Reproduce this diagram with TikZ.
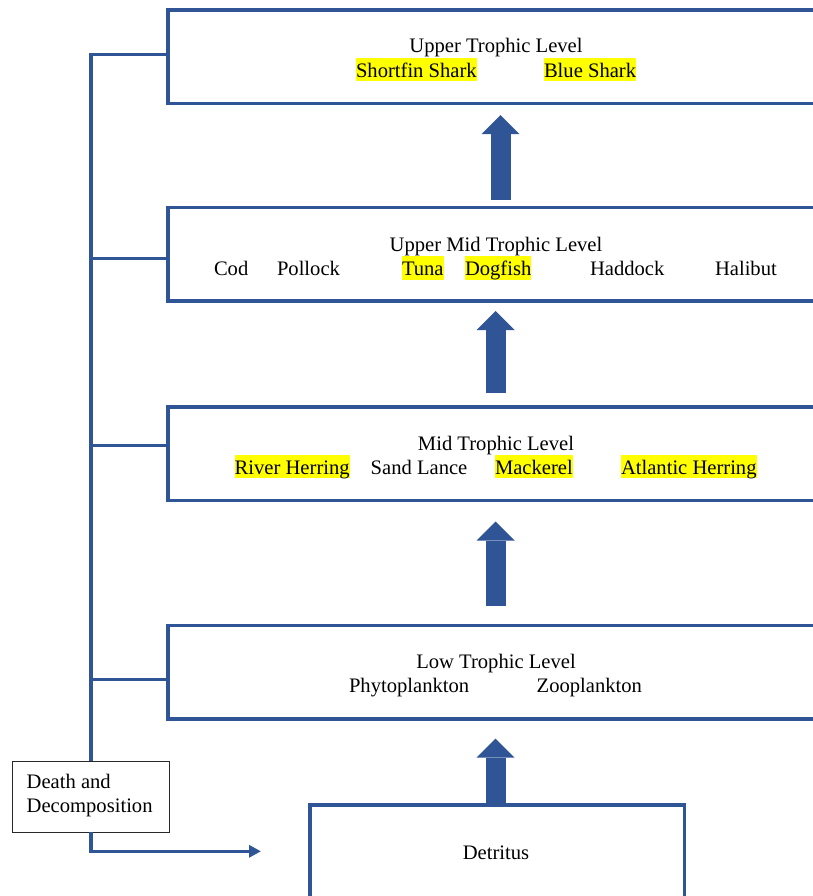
\documentclass[tikz,border=0pt]{standalone}
\usepackage{fontspec}
\setmainfont{Liberation Serif}
\usetikzlibrary{arrows.meta}
\definecolor{levelblue}{RGB}{47,85,151}
\definecolor{marker}{RGB}{255,255,0}
\definecolor{boxgray}{RGB}{40,40,40}

\begin{document}
\begin{tikzpicture}[x=1pt,y=-1pt,
  every node/.style={font=\fontsize{20.6}{24}\selectfont, inner sep=0pt, outer sep=0pt},
  level/.style={rectangle, draw=levelblue, line width=3.5pt, fill=white,
    anchor=north west, minimum width=700pt, minimum height=93.5pt},
  word/.style={anchor=base west},
  title/.style={anchor=base},
  hl/.style={anchor=base west, fill=marker, text height=19.5pt, text depth=4pt},
  link/.style={draw=levelblue, line width=3.3pt},
  uparrow/.style={draw=levelblue, line width=20pt,
    -{Triangle[length=19pt,width=38pt,line width=0pt]}},
]
\clip (0,0) rectangle (813,896);
\fill[white] (0,0) rectangle (813,896);

% trophic level boxes (they run past the right edge)
\node[level] (top1) at (168,10) {};
\node[level] (mid2) at (168,207.5) {};
\node[level] (mid3) at (168,407) {};
\node[level] (low4) at (168,625.5) {};
\node[level, minimum width=374.3pt, minimum height=150pt] (detr) at (310,805) {};

% box contents
\node[title] (t1) at (496,52.7) {Upper Trophic Level};
\node[hl] (shortfin) at (356,77.3) {Shortfin Shark};
\node[hl] (blue) at (544,77.3) {Blue Shark};

\node[title] (t2) at (496,251.7) {Upper Mid Trophic Level};
\node[word] (cod) at (214,275.7) {Cod};
\node[word] (pollock) at (277,275.7) {Pollock};
\node[hl] (tuna) at (402,275.7) {Tuna};
\node[hl] (dogfish) at (465,275.7) {Dogfish};
\node[word] (haddock) at (590,275.7) {Haddock};
\node[word] (halibut) at (715,275.7) {Halibut};

\node[title] (t3) at (496,450) {Mid Trophic Level};
\node[hl] (river) at (234.7,474.3) {River Herring};
\node[word] (sand) at (370.7,474.3) {Sand Lance};
\node[hl] (mackerel) at (495,474.3) {Mackerel};
\node[hl] (atlantic) at (621,474.3) {Atlantic Herring};

\node[title] (t4) at (496,668.3) {Low Trophic Level};
\node[word] (phyto) at (349,692.5) {Phytoplankton};
\node[word] (zoo) at (536.7,692.5) {Zooplankton};

\node[title] (t5) at (496,859.3) {Detritus};

% death and decomposition box
\node[rectangle, draw=boxgray, line width=1pt, fill=white, anchor=north west,
  minimum width=156.6pt, minimum height=71pt] (death) at (12.7,761.3) {};
\node[word] (death1) at (26.7,788.3) {Death and};
\node[word] (death2) at (26.7,812.7) {Decomposition};

% block arrows between levels
\coordinate (colA) at (500.5,0);
\coordinate (colB) at (495.5,0);
\draw[uparrow, shorten <=7.7pt, shorten >=11.7pt] (mid2.north -| colA) -- (top1.south -| colA);
\draw[uparrow, shorten <=13.7pt, shorten >=10pt] (mid3.north -| colB) -- (mid2.south -| colB);
\draw[uparrow, shorten <=20pt, shorten >=21pt] (low4.north -| colB) -- (mid3.south -| colB);
\draw[uparrow, shorten <=1.5pt, shorten >=19.5pt] (detr.north -| colB) -- (low4.south -| colB);

% left trunk with a branch to every level
\coordinate (j1) at (91,54.3);
\coordinate (j2) at (91,258.3);
\coordinate (j3) at (91,445.7);
\coordinate (j4) at (91,679.3);
\coordinate (decay) at (261,851.3);
\draw[link] (j1 -| top1.west) -- (j1) -- (death.north);
\draw[link] (j2) -- (j2 -| mid2.west);
\draw[link] (j3) -- (j3 -| mid3.west);
\draw[link] (j4) -- (j4 -| low4.west);
\draw[link, -{Triangle[length=12pt,width=12pt]}] (death.south) |- (decay);
\end{tikzpicture}
\end{document}
